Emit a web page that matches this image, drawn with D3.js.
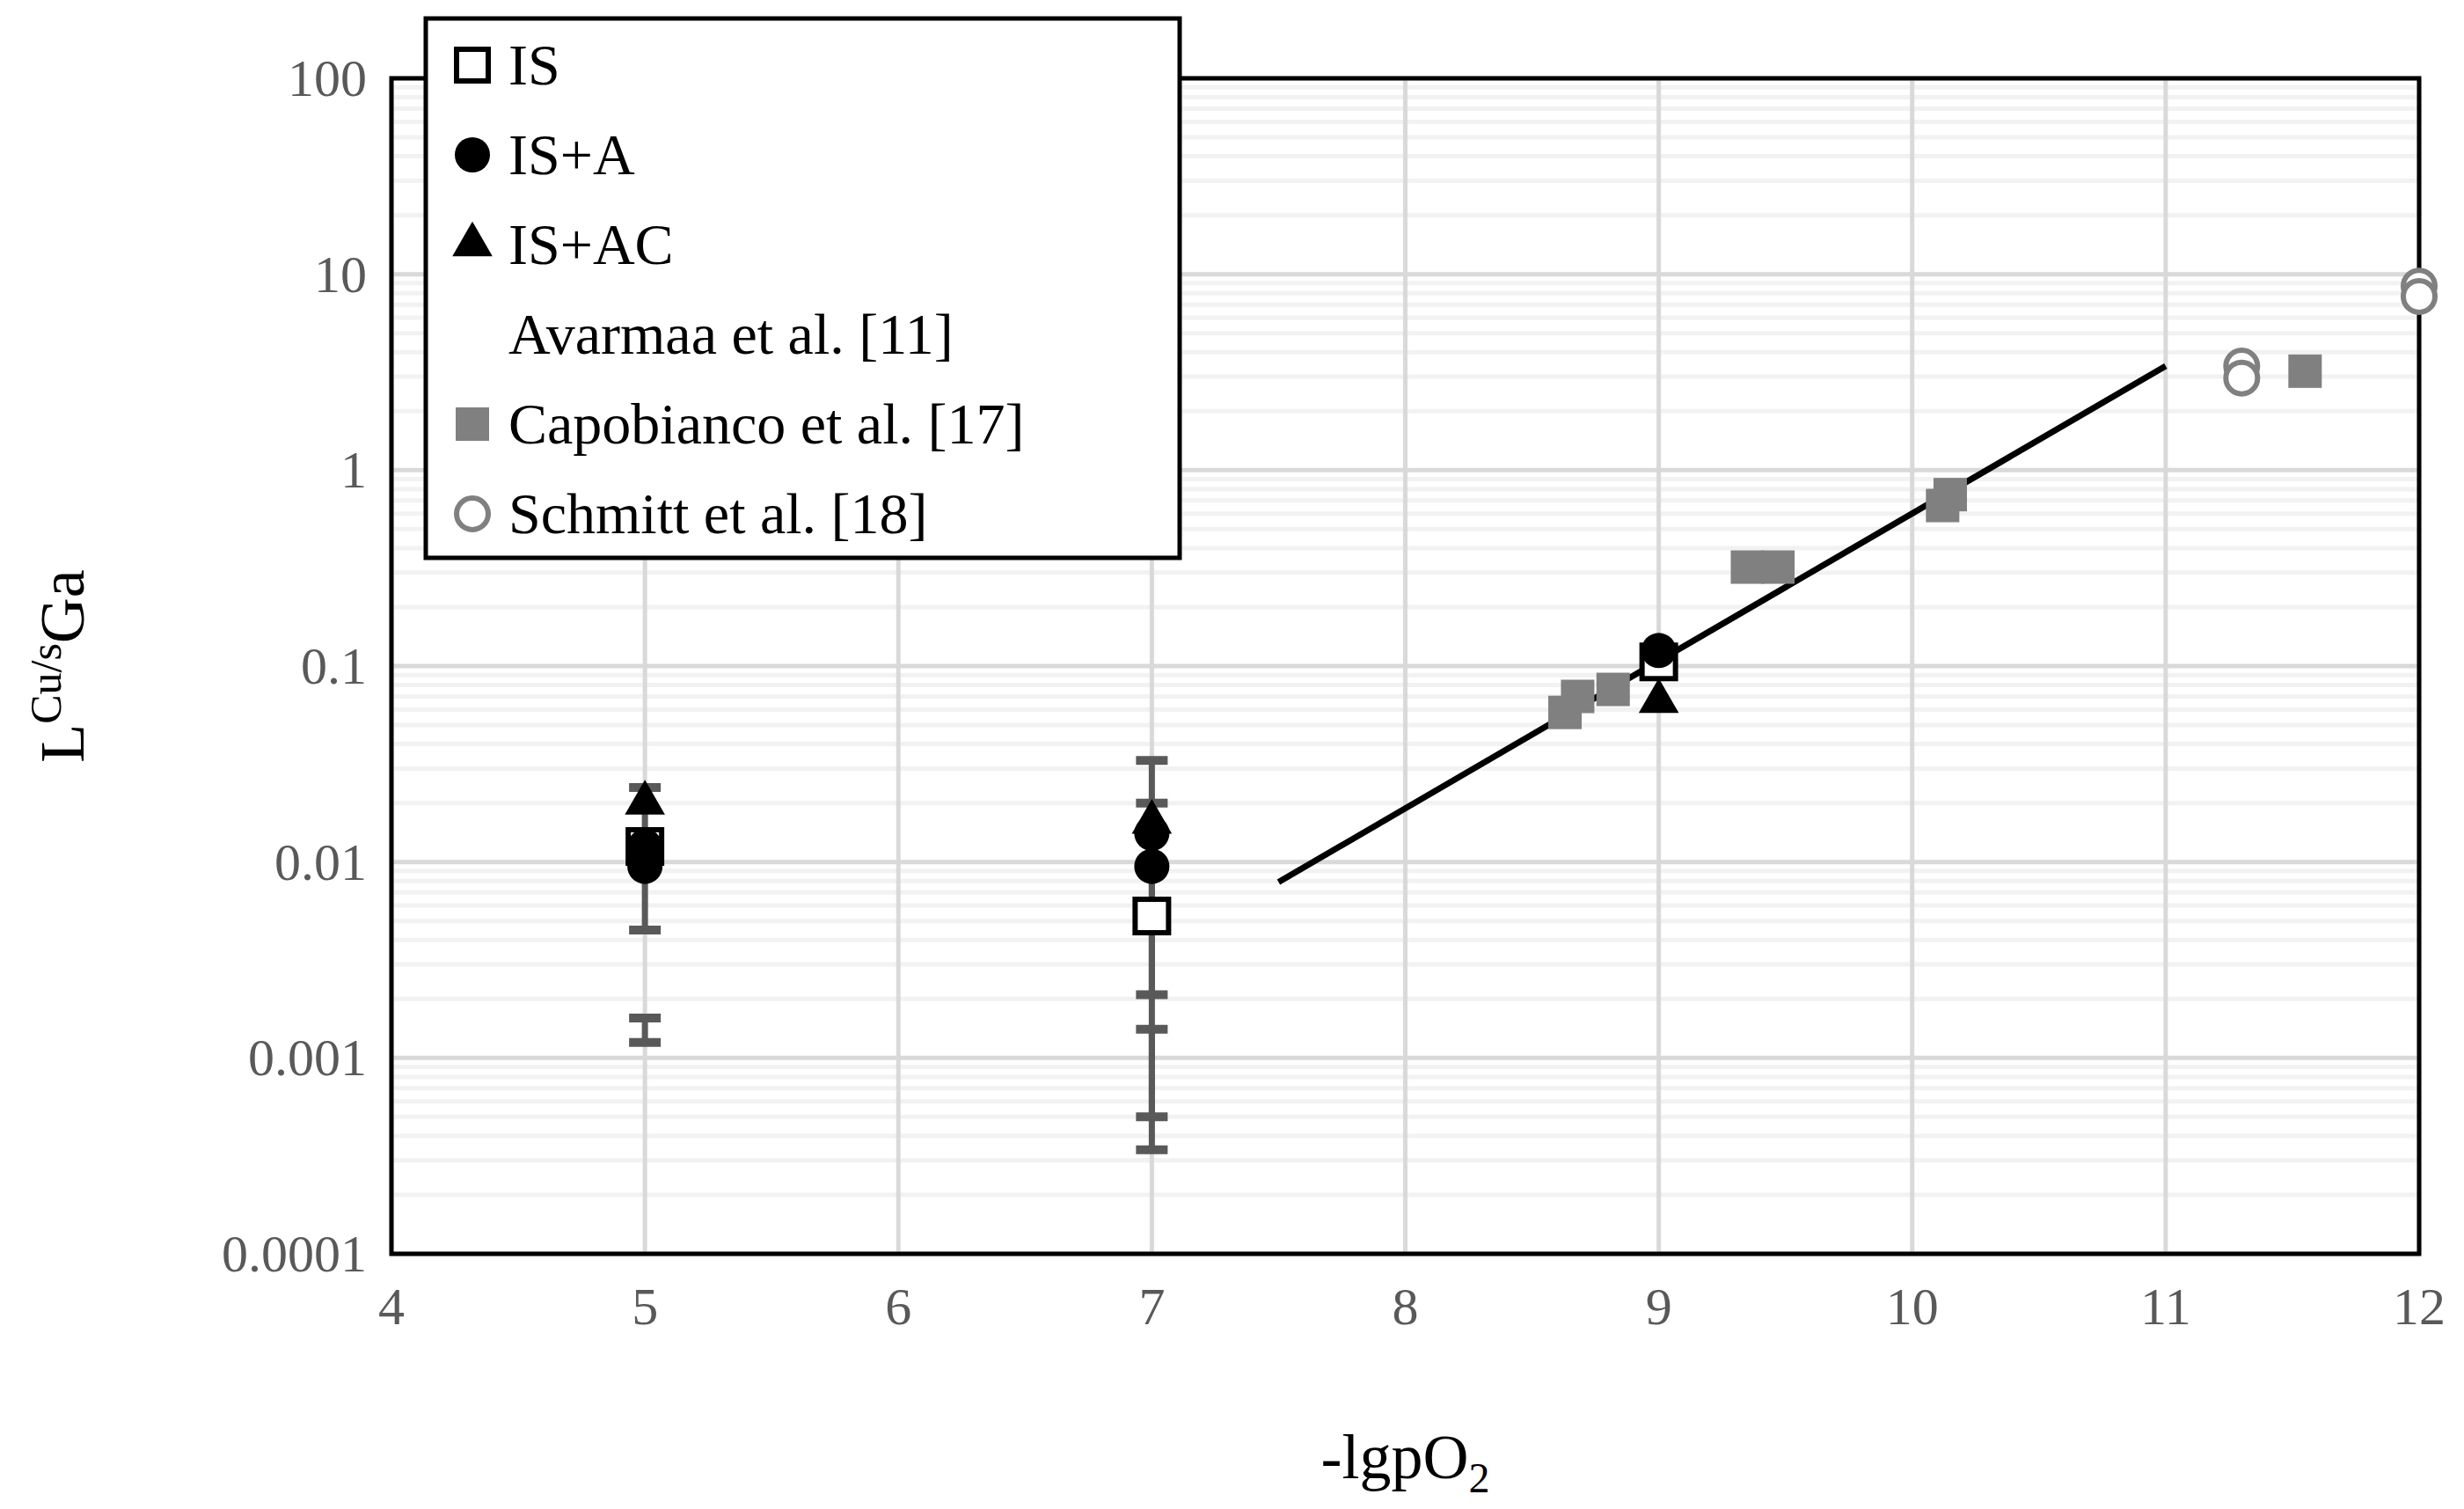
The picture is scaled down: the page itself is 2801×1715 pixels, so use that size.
<!DOCTYPE html>
<html><head><meta charset="utf-8">
<script src="https://cdn.jsdelivr.net/npm/d3@7"></script>
<style>body{margin:0;background:#fff}text{font-family:"Liberation Serif","Times New Roman",serif}</style>
</head><body><div id="chart"></div>
<script>
const isPts = [[5, 0.012], [7, 0.0053], [9, 0.105]];
const isaPts = [[5, 0.0095], [5, 0.012], [7, 0.0095], [7, 0.014], [9, 0.12]];
const isacPts = [[5, 0.02], [7, 0.016], [9, 0.066]];
const errBars = [[5, 0.0045, 0.024], [5, 0.0012, 0.0016], [7, 0.0021, 0.033], [7, 0.00034, 0.02], [7, 0.0005, 0.0014]];
const avarmaa = [[5, 0.011], [6, 0.0085], [6, 0.0062], [7, 0.013], [7, 0.005], [8, 0.022], [8, 0.016], [9, 0.11], [10, 0.6]];
const capobianco = [[8.63, 0.058], [8.68, 0.07], [8.82, 0.076], [9.35, 0.32], [9.47, 0.32], [10.12, 0.66], [10.15, 0.75], [11.55, 3.2]];
const schmitt = [[11.3, 3.4], [11.3, 2.95], [12, 8.7], [12, 7.7]];
const trend = [[7.5, 0.0079], [11, 3.4]];
const xTicks = [4, 5, 6, 7, 8, 9, 10, 11, 12];
const yTicks = [0.0001, 0.001, 0.01, 0.1, 1, 10, 100];
const yLabels = ["0.0001", "0.001", "0.01", "0.1", "1", "10", "100"];

const W = 2801, H = 1715;
const m = {left: 445, right: 51, top: 89, bottom: 290};
const svg = d3.select("#chart").append("svg").attr("width", W).attr("height", H);
const x = d3.scaleLinear().domain([4, 12]).range([m.left, W - m.right]);
const y = d3.scaleLog().domain([0.0001, 100]).range([H - m.bottom, m.top]);
const g = svg.append("g");

// minor grid
const minor = [];
for (let e = -4; e < 2; e++) for (let k = 2; k <= 9; k++) minor.push(k * Math.pow(10, e));
g.selectAll(".mn").data(minor).join("line")
  .attr("x1", x(4)).attr("x2", x(12)).attr("y1", d => y(d)).attr("y2", d => y(d))
  .attr("stroke", "#f2f2f2").attr("stroke-width", 5);
g.selectAll(".mj").data(yTicks).join("line")
  .attr("x1", x(4)).attr("x2", x(12)).attr("y1", d => y(d)).attr("y2", d => y(d))
  .attr("stroke", "#d9d9d9").attr("stroke-width", 5);
g.selectAll(".vx").data(xTicks).join("line")
  .attr("x1", d => x(d)).attr("x2", d => x(d)).attr("y1", y(100)).attr("y2", y(0.0001))
  .attr("stroke", "#d9d9d9").attr("stroke-width", 5);
g.append("rect").attr("x", x(4)).attr("y", y(100)).attr("width", x(12) - x(4)).attr("height", y(0.0001) - y(100))
  .attr("fill", "none").attr("stroke", "#000").attr("stroke-width", 5);

// tick labels
svg.selectAll(".xl").data(xTicks).join("text")
  .attr("x", d => x(d)).attr("y", H - m.bottom + 80).attr("text-anchor", "middle")
  .attr("font-size", 60).attr("fill", "#595959").text(d => d);
svg.selectAll(".yl").data(yTicks).join("text")
  .attr("x", m.left - 28).attr("y", d => y(d) + 20).attr("text-anchor", "end")
  .attr("font-size", 60).attr("fill", "#595959").text((d, i) => yLabels[i]);

// axis titles
const xt = svg.append("text").attr("x", (x(4) + x(12)) / 2).attr("y", 1680).attr("text-anchor", "middle").attr("font-size", 72);
xt.append("tspan").text("-lgpO");
xt.append("tspan").attr("font-size", 48).attr("dy", 16).text("2");
const yt = svg.append("text").attr("transform", `translate(95,${(y(100) + y(0.0001)) / 2}) rotate(-90)`).attr("text-anchor", "middle").attr("font-size", 72);
yt.append("tspan").text("L");
yt.append("tspan").attr("font-size", 50).attr("dy", -26).text("Cu/s");
yt.append("tspan").attr("dy", 26).text("Ga");

// error bars
const eb = g.append("g").attr("stroke", "#595959").attr("stroke-width", 7);
errBars.forEach(([xv, lo, hi]) => {
  eb.append("line").attr("x1", x(xv)).attr("x2", x(xv)).attr("y1", y(lo)).attr("y2", y(hi));
  [lo, hi].forEach(v => eb.append("line").attr("x1", x(xv) - 18).attr("x2", x(xv) + 18).attr("y1", y(v)).attr("y2", y(v)).attr("stroke-width", 10));
});

// trend line
g.append("path").attr("d", d3.line().x(d => x(d[0])).y(d => y(d[1]))(trend))
  .attr("stroke", "#000").attr("stroke-width", 7).attr("fill", "none");

const s = 38;
function square(sel, data, fill, stroke) {
  sel.selectAll(null).data(data).join("rect")
    .attr("x", d => x(d[0]) - s / 2).attr("y", d => y(d[1]) - s / 2).attr("width", s).attr("height", s)
    .attr("fill", fill).attr("stroke", stroke).attr("stroke-width", stroke === "none" ? 0 : 6);
}
const tri = d3.symbol().type(d3.symbolTriangle).size(900);
const cross = d3.symbol().type(d3.symbolTimes).size(1300);

square(g.append("g"), capobianco, "#808080", "none");
g.append("g").selectAll("circle").data(schmitt).join("circle")
  .attr("cx", d => x(d[0])).attr("cy", d => y(d[1])).attr("r", 18)
  .attr("fill", "#fff").attr("stroke", "#808080").attr("stroke-width", 6);
square(g.append("g"), isPts, "#fff", "#000");
g.append("g").selectAll("circle").data(isaPts).join("circle")
  .attr("cx", d => x(d[0])).attr("cy", d => y(d[1])).attr("r", 20).attr("fill", "#000");
g.append("g").selectAll("path").data(isacPts).join("path")
  .attr("transform", d => `translate(${x(d[0])},${y(d[1])})`).attr("d", tri).attr("fill", "#000");
g.append("g").selectAll("path").data(avarmaa).join("path")
  .attr("transform", d => `translate(${x(d[0])},${y(d[1])})`).attr("d", cross).attr("fill", "#808080");

// legend
const lg = svg.append("g");
lg.append("rect").attr("x", 484).attr("y", 21).attr("width", 857).attr("height", 613)
  .attr("fill", "#fff").attr("stroke", "#000").attr("stroke-width", 5);
const names = ["IS", "IS+A", "IS+AC", "Avarmaa et al. [11]", "Capobianco et al. [17]", "Schmitt et al. [18]"];
names.forEach((n, i) => {
  const cy = 74 + i * 102, cx = 537;
  const row = lg.append("g");
  if (i === 0) row.append("rect").attr("x", cx - 18).attr("y", cy - 18).attr("width", 36).attr("height", 36).attr("fill", "#fff").attr("stroke", "#000").attr("stroke-width", 6);
  if (i === 1) row.append("circle").attr("cx", cx).attr("cy", cy).attr("r", 20).attr("fill", "#000");
  if (i === 2) row.append("path").attr("transform", `translate(${cx},${cy})`).attr("d", tri).attr("fill", "#000");
  if (i === 3) row.append("path").attr("transform", `translate(${cx},${cy})`).attr("d", cross).attr("fill", "#808080");
  if (i === 4) row.append("rect").attr("x", cx - 19).attr("y", cy - 19).attr("width", 38).attr("height", 38).attr("fill", "#808080");
  if (i === 5) row.append("circle").attr("cx", cx).attr("cy", cy).attr("r", 18).attr("fill", "#fff").attr("stroke", "#808080").attr("stroke-width", 6);
  row.append("text").attr("x", 578).attr("y", cy + 22).attr("font-size", 66).text(n);
});
</script></body></html>
